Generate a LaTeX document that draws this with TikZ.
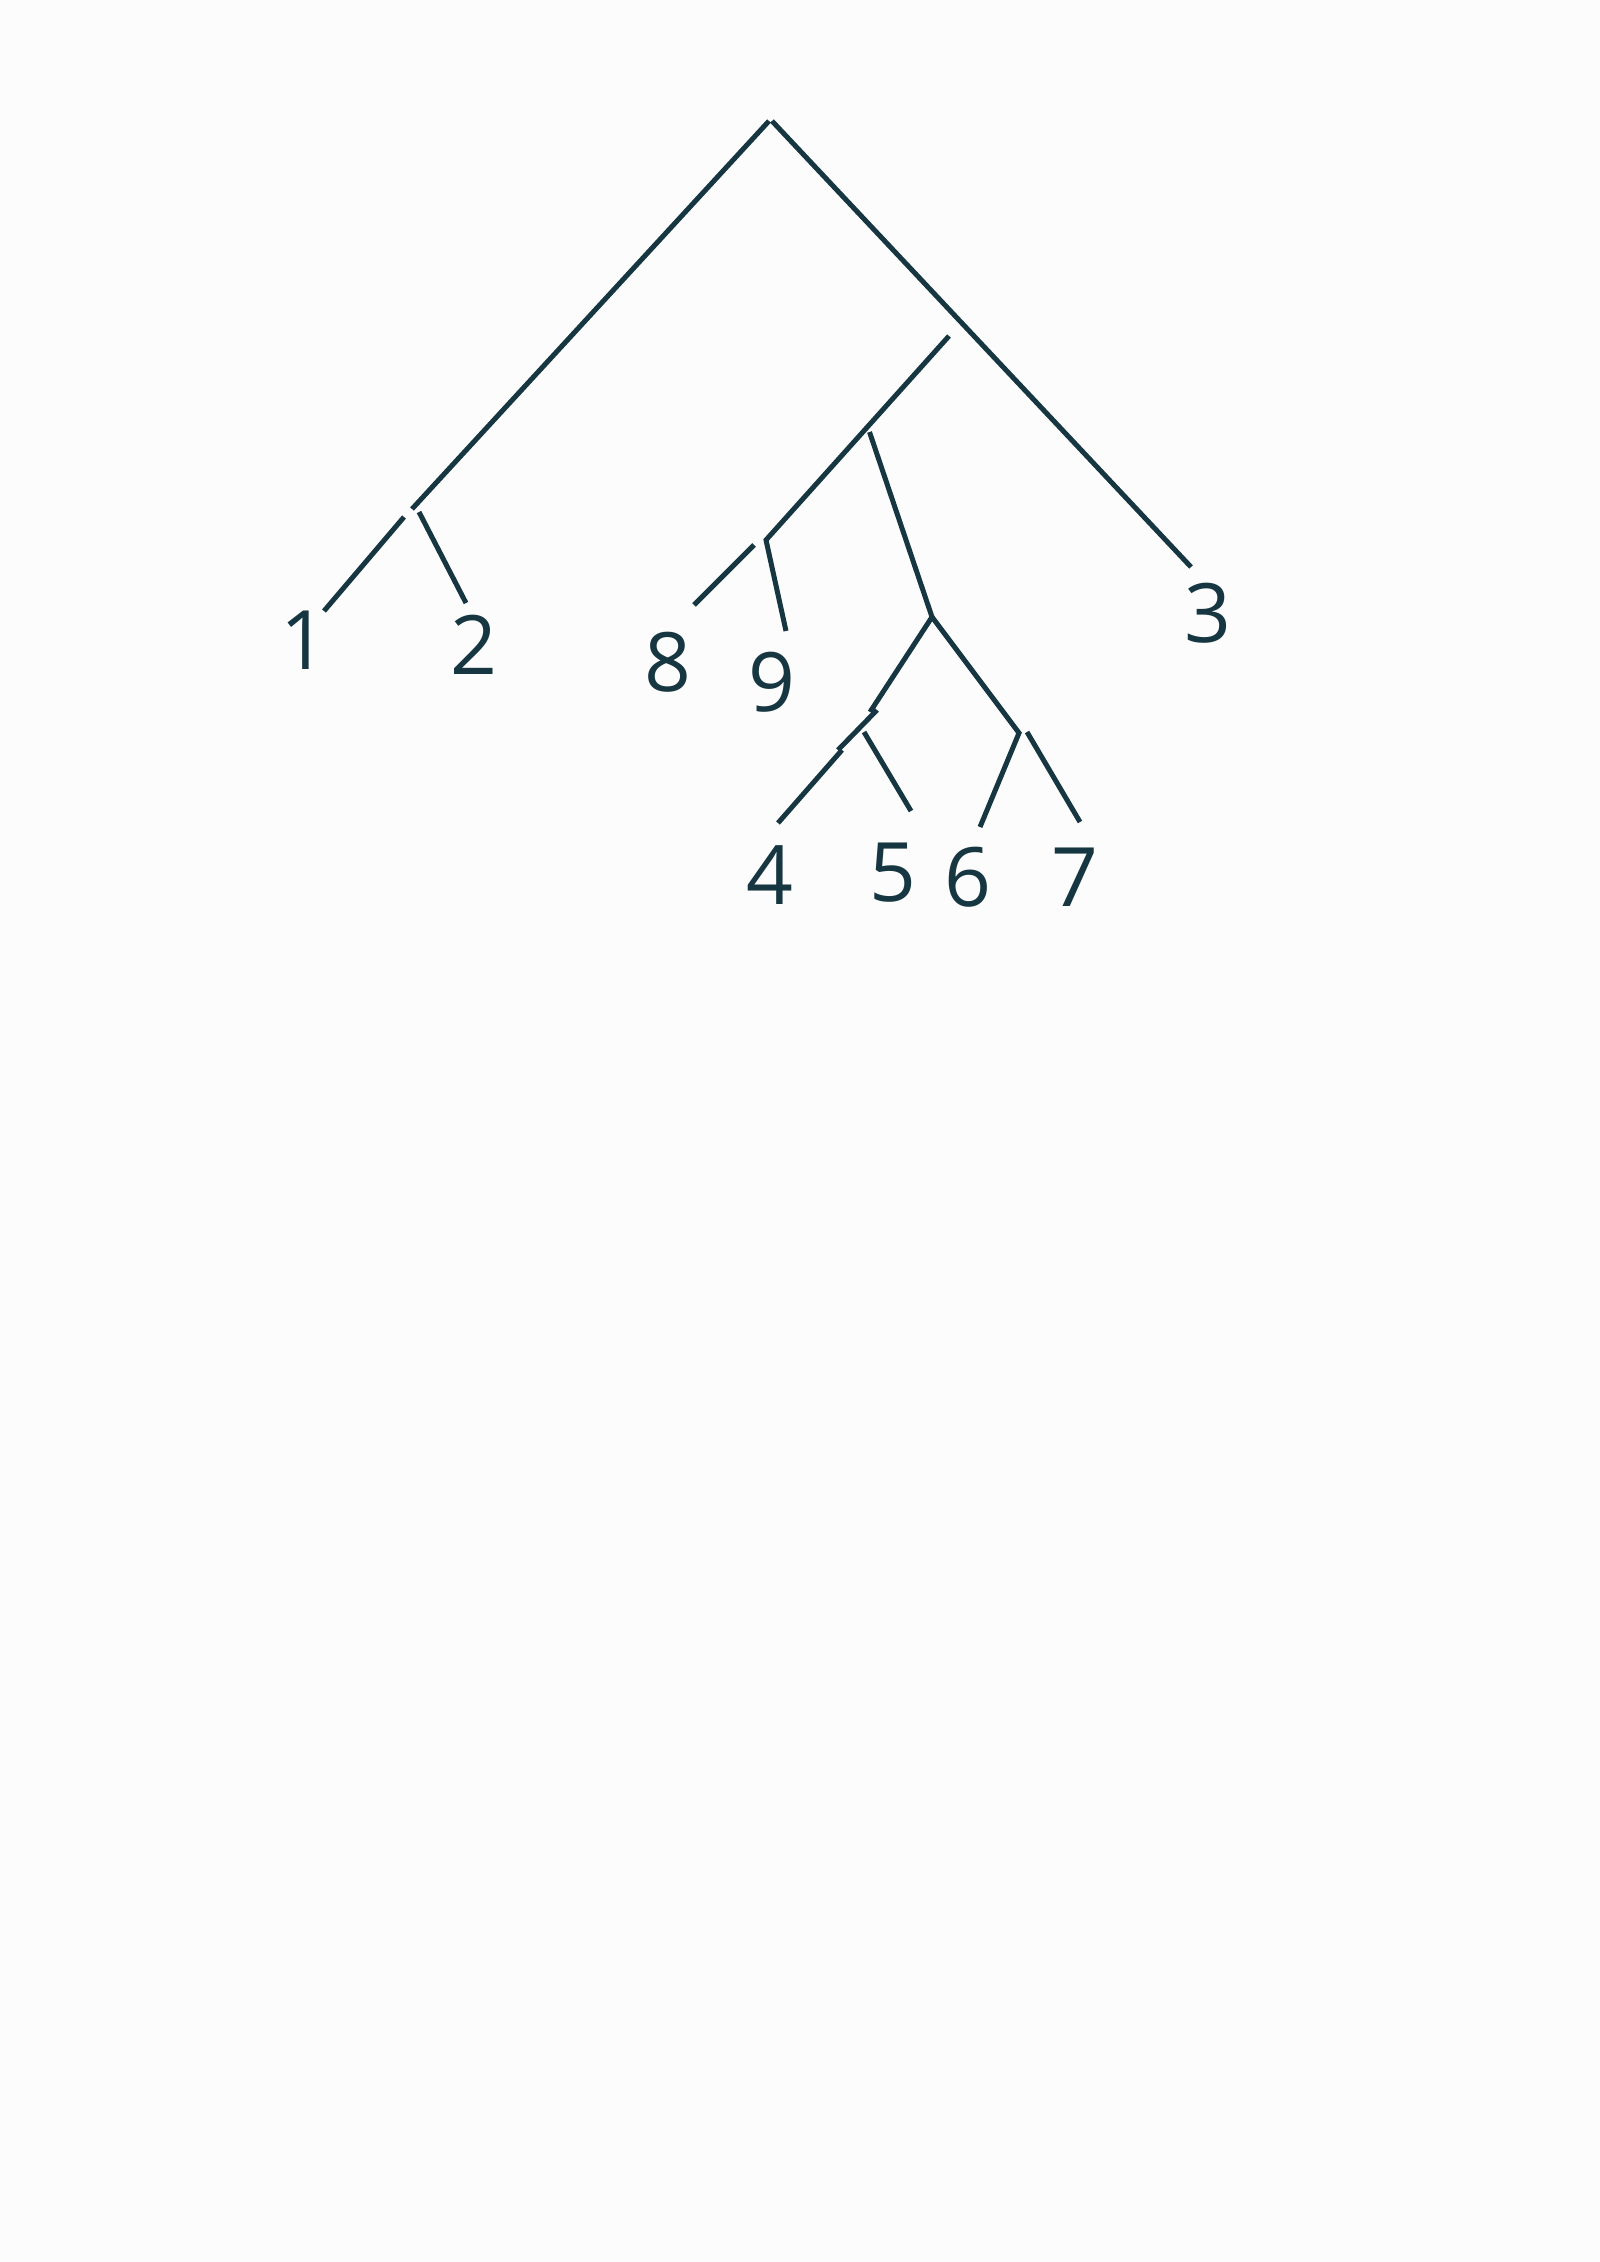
\documentclass[tikz,border=0pt]{standalone}
\usepackage{fontspec}
\setmainfont{Open Sans}
\definecolor{ink}{RGB}{22,54,66}
\definecolor{paper}{RGB}{252,252,252}
\begin{document}
\begin{tikzpicture}[x=1pt,y=-1pt,
  branch/.style={draw=ink,line width=5pt},
  digit/.style={text=ink,font=\fontsize{82}{96}\selectfont,inner sep=0pt}]
\fill[paper] (0,0) rectangle (1600,2262);
\useasboundingbox (0,0) rectangle (1600,2262);
% coordinates
\coordinate (rl) at (769,121);
\coordinate (rr) at (772,121);
\coordinate (a) at (412,509);
\coordinate (b3) at (1191,567);
\coordinate (a1s) at (404,517);
\coordinate (a1e) at (324,611);
\coordinate (a2s) at (419,512);
\coordinate (a2e) at (466,603);
\coordinate (c) at (949,336);
\coordinate (d) at (766,540);
\coordinate (d9) at (786,631);
\coordinate (e8s) at (754,545);
\coordinate (e8e) at (694,605);
\coordinate (fs) at (869.5,432);
\coordinate (f) at (932,617);
\coordinate (g) at (870,712);
\coordinate (g1) at (877,710);
\coordinate (g2) at (838,750);
\coordinate (g3) at (842,750);
\coordinate (l4) at (778,823);
\coordinate (l5s) at (864,732);
\coordinate (l5e) at (911,811);
\coordinate (h) at (1019,733);
\coordinate (l6) at (980,827);
\coordinate (l7s) at (1027,732);
\coordinate (l7e) at (1080,822);
% labels
\node[digit] (n1) at (304,640) {1};
\node[digit] (n2) at (474,645) {2};
\node[digit] (n8) at (668,662) {8};
\node[digit] (n9) at (772,682) {9};
\node[digit] (n3) at (1208,613) {3};
\node[digit] (n4) at (770,875) {4};
\node[digit] (n5) at (893,873) {5};
\node[digit] (n6) at (968,877) {6};
\node[digit] (n7) at (1075,877) {7};
% branches
\draw[branch] (a) -- (rl);
\draw[branch] (rr) -- (b3);
\draw[branch] (a1s) -- (a1e);
\draw[branch] (a2s) -- (a2e);
\draw[branch] (c) -- (d) -- (d9);
\draw[branch] (e8s) -- (e8e);
\draw[branch] (fs) -- (f) -- (g);
\draw[branch] (g1) -- (g2);
\draw[branch] (g3) -- (l4);
\draw[branch] (l5s) -- (l5e);
\draw[branch] (f) -- (h) -- (l6);
\draw[branch] (l7s) -- (l7e);
\end{tikzpicture}
\end{document}
